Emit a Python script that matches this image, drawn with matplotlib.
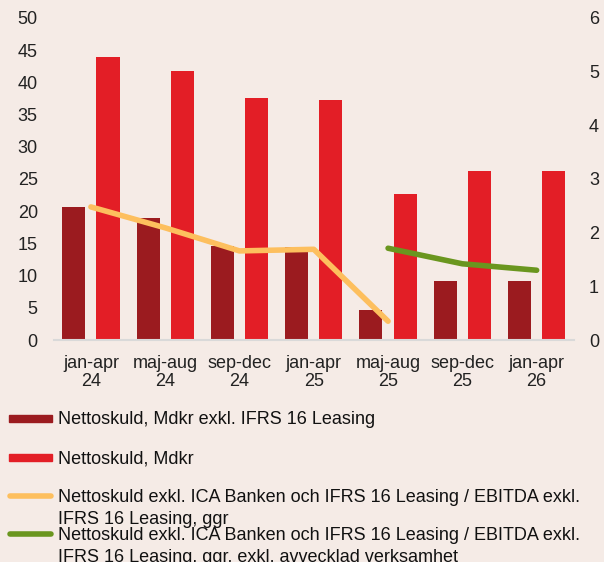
import matplotlib
matplotlib.use("Agg")
import matplotlib.pyplot as plt
from matplotlib.patches import Rectangle
from matplotlib.lines import Line2D
import numpy as np

plt.rcParams["font.family"] = ["Liberation Sans", "DejaVu Sans"]

# data
perioder = ["jan-apr\n24", "maj-aug\n24", "sep-dec\n24", "jan-apr\n25",
            "maj-aug\n25", "sep-dec\n25", "jan-apr\n26"]
skuld_exkl_ifrs = [20.7, 19.0, 14.6, 14.4, 4.6, 9.2, 9.1]
skuld_total = [44.0, 41.7, 37.5, 37.2, 22.7, 26.2, 26.3]
ggr = [2.48, 2.09, 1.66, 1.69, 0.35]
ggr_exkl_avveckl = [1.71, 1.42, 1.30]

labels = ["Nettoskuld, Mdkr exkl. IFRS 16 Leasing",
          "Nettoskuld, Mdkr",
          "Nettoskuld exkl. ICA Banken och IFRS 16 Leasing / EBITDA exkl.\nIFRS 16 Leasing, ggr",
          "Nettoskuld exkl. ICA Banken och IFRS 16 Leasing / EBITDA exkl.\nIFRS 16 Leasing, ggr, exkl. avvecklad verksamhet"]

bg = "#F5EBE6"
c_dark = "#9B1B1F"
c_red = "#E31E26"
c_orange = "#FDBF5E"
c_green = "#6A961F"

fig = plt.figure(figsize=(6.04, 5.62), dpi=100, facecolor=bg)
ax = fig.add_axes([0.089, 0.395, 0.861, 0.573])
ax.set_facecolor(bg)
ax2 = ax.twinx()

x = np.arange(len(perioder))
w = 0.31
ax.bar(x - 0.23, skuld_exkl_ifrs, w, color=c_dark)
ax.bar(x + 0.23, skuld_total, w, color=c_red)

ax2.plot(x[:len(ggr)], ggr, color=c_orange, lw=4, solid_capstyle="round", solid_joinstyle="round")
ax2.plot(x[4:4 + len(ggr_exkl_avveckl)], ggr_exkl_avveckl, color=c_green, lw=4,
         solid_capstyle="round", solid_joinstyle="round")

ax.set_xlim(-0.5, len(perioder) - 0.5)
ax.set_ylim(0, 50)
ax.set_yticks(range(0, 51, 5))
ax2.set_ylim(0, 6)
ax2.set_yticks(range(0, 7))
ax.set_xticks(x)
ax.set_xticklabels(perioder, fontsize=13, linespacing=1.05)

for a in (ax, ax2):
    for s in a.spines.values():
        s.set_visible(False)
    a.tick_params(length=0, labelsize=13, colors="#222222")
ax.spines["bottom"].set_visible(True)
ax.spines["bottom"].set_color("#D9D9D9")
ax.spines["bottom"].set_linewidth(1.5)
ax.tick_params(axis="y", pad=11.5)
ax.tick_params(axis="x", pad=11)
ax2.tick_params(axis="y", pad=11)

# legend, drawn by hand so the handles sit on the first text line
W, H = 604, 562
rows = [418, 457, 496, 534]
for i, (lab, y) in enumerate(zip(labels, rows)):
    yf = 1 - y / H
    if i < 2:
        fig.patches.append(Rectangle((9 / W, yf - 3.5 / H), 43 / W, 7 / H,
                                     transform=fig.transFigure,
                                     color=[c_dark, c_red][i]))
    else:
        fig.lines.append(Line2D([10 / W, 51 / W], [yf, yf], transform=fig.transFigure,
                                color=[c_orange, c_green][i - 2], lw=4,
                                solid_capstyle="round"))
    for k, part in enumerate(lab.split("\n")):
        fig.text(58 / W, 1 - (y + 6 + 22 * k) / H, part, fontsize=13,
                 va="baseline", ha="left", color="#111111")

fig.savefig("out.png", dpi=100, facecolor=bg)
